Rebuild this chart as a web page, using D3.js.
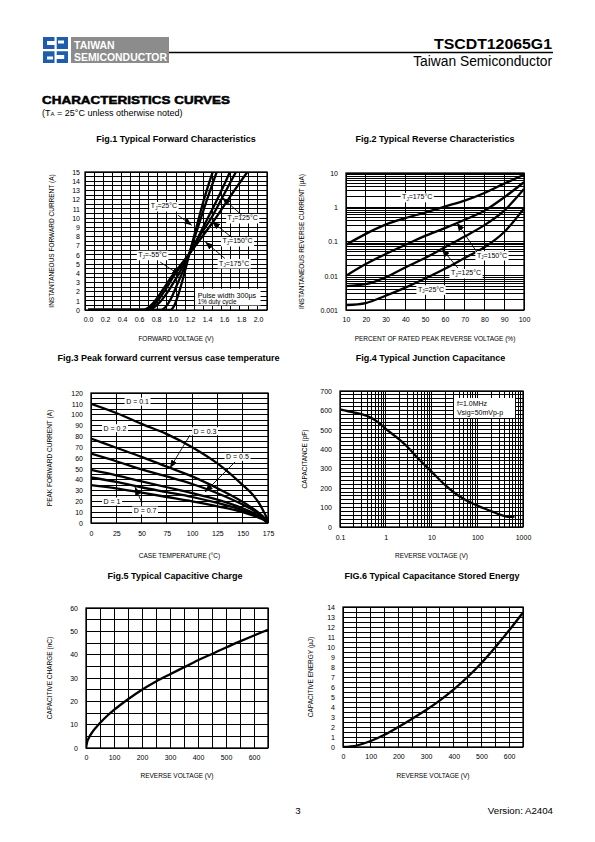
<!DOCTYPE html>
<html><head><meta charset="utf-8">
<script src="https://cdn.jsdelivr.net/npm/d3@7/dist/d3.min.js"></script>
<style>html,body{margin:0;padding:0;background:#fff}svg{display:block}</style>
</head><body>
<script>
// ---------------- DATA ----------------
// Fig.1 Typical Forward Characteristics (V, A)
const fig1XTicks = [0.0,0.2,0.4,0.6,0.8,1.0,1.2,1.4,1.6,1.8,2.0];
const fig1YTicks = [0,1,2,3,4,5,6,7,8,9,10,11,12,13,14,15];
const fig1Tm55 = [[0,0],[0.97,0],[1.01,0.4],[1.06,1.6],[1.12,3.5],[1.19,6.0],[1.27,8.8],[1.37,12.2],[1.467,15]];
const fig1T25  = [[0,0],[0.86,0],[0.91,0.3],[0.98,1.3],[1.05,2.8],[1.12,4.3],[1.19,6.1],[1.29,8.9],[1.40,12],[1.514,15]];
const fig1T125 = [[0,0],[0.71,0],[0.76,0.2],[0.84,0.8],[0.94,2.0],[1.04,3.5],[1.12,4.8],[1.19,6.0],[1.30,8.0],[1.41,10],[1.54,12.4],[1.67,15]];
const fig1T150 = [[0,0],[0.68,0],[0.73,0.2],[0.81,0.9],[0.91,2.2],[1.01,3.7],[1.11,5.0],[1.19,6.1],[1.31,8.0],[1.45,10],[1.59,12.4],[1.74,15]];
const fig1T175 = [[0,0],[0.65,0],[0.70,0.2],[0.78,0.9],[0.88,2.2],[0.98,3.6],[1.09,4.9],[1.19,6.1],[1.33,7.8],[1.48,9.7],[1.67,12.3],[1.874,15]];

// Fig.2 Typical Reverse Characteristics (% of VRRM, uA)
const fig2XTicks = [10,20,30,40,50,60,70,80,90,100];
const fig2YTicks = [0.001,0.01,0.1,1,10];
const fig2YTickLabels = ["0.001","0.01","0.1","1","10"];
const fig2Percent = [10,20,30,40,50,60,70,80,90,100];
const fig2T175 = [0.08,0.167,0.31,0.48,0.7,1.05,1.56,2.6,4.9,8.9];
const fig2T150 = [0.01,0.022,0.043,0.08,0.146,0.245,0.43,0.79,1.95,5.4];
const fig2T125 = [0.005,0.0057,0.009,0.0175,0.033,0.068,0.14,0.3,0.8,3.4];
const fig2T25  = [0.0014,0.0016,0.0026,0.0045,0.0083,0.016,0.033,0.068,0.19,0.93];

// Fig.3 Peak forward current vs case temperature (degC, A)
const fig3XTicks = [0,25,50,75,100,125,150,175];
const fig3YTicks = [0,10,20,30,40,50,60,70,80,90,100,110,120];
const fig3D01 = [[0,110],[25,101.5],[50,91.5],[75,82],[100,70],[125,55],[150,35],[160,26],[167,17],[171,10],[173.5,5],[175,0]];
const fig3D02 = [[0,78],[25,69.5],[50,61],[75,52],[100,43],[125,32],[150,19.5],[160,13.5],[167,8.5],[171,5],[175,0]];
const fig3D03 = [[0,64],[25,57],[50,49.5],[75,43],[100,36],[125,27.5],[150,17],[160,12],[167,7.5],[171,4.5],[175,0]];
const fig3D05 = [[0,49],[25,44],[50,38.5],[75,33],[100,27.5],[125,21.5],[150,13.5],[160,9.5],[167,6],[171,3.5],[175,0]];
const fig3D07 = [[0,42],[25,38],[50,33],[75,28.5],[100,24],[125,18.5],[150,11.7],[160,8.3],[167,5.3],[171,3],[175,0]];
const fig3D1  = [[0,35],[25,32],[50,28],[75,24],[100,20],[125,15.4],[150,10],[160,7],[167,4.5],[171,2.7],[175,0]];

// Fig.4 Typical Junction Capacitance (V, pF)
const fig4XTicks = [0.1,1,10,100,1000];
const fig4XTickLabels = ["0.1","1","10","100","1000"];
const fig4YTicks = [0,100,200,300,400,500,600,700];
const fig4Cap = [[0.1,605],[0.2,590],[0.3,580],[0.5,560],[0.7,537],[1,505],[2,450],[3,412],[5,355],[10,285],[20,215],[30,180],[50,145],[100,110],[200,82],[300,65],[400,56],[500,52],[650,53]];

// Fig.5 Typical Capacitive Charge (V, nC)
const fig5XTicks = [0,100,200,300,400,500,600];
const fig5YTicks = [0,10,20,30,40,50,60];
const fig5Charge = [[0,0],[4,2.6],[10,4.3],[25,7.2],[50,10.7],[75,13.7],[100,16.3],[150,20.9],[200,25],[250,28.5],[300,31.6],[350,34.6],[400,37.6],[450,40.3],[500,43.1],[550,45.7],[600,48.2],[650,50.7]];

// Fig.6 Typical Capacitance Stored Energy (V, uJ)
const fig6XTicks = [0,100,200,300,400,500,600];
const fig6YTicks = [0,1,2,3,4,5,6,7,8,9,10,11,12,13,14];
const fig6Energy = [[0,0],[50,0.15],[100,0.6],[150,1.22],[200,2.0],[250,2.83],[300,3.7],[350,4.67],[400,5.77],[450,7.0],[500,8.4],[550,9.97],[600,11.67],[650,13.45]];

// ---------------- DRAWING ----------------
const FF = '"Liberation Sans", Arial, Helvetica, sans-serif';
const svg = d3.select("body").append("svg").attr("width",595).attr("height",842);
svg.append("rect").attr("width",595).attr("height",842).attr("fill","#fff");
const defs = svg.append("defs");
defs.append("marker").attr("id","ah").attr("viewBox","0 0 10 8").attr("refX",10).attr("refY",4)
  .attr("markerWidth",8).attr("markerHeight",6.4).attr("markerUnits","userSpaceOnUse").attr("orient","auto")
  .append("path").attr("d","M0,0L10,4L0,8z").attr("fill","#000");

function text(g, x, y, s, o={}){
  const t = g.append("text").attr("x",x).attr("y",y).attr("font-family",FF)
    .attr("font-size",o.fs||7).attr("text-anchor",o.anchor||"start").attr("fill",o.fill||"#000");
  if(o.bold) t.attr("font-weight","bold");
  if(o.rotate) t.attr("transform",`rotate(-90,${x},${y})`);
  if(o.len) t.attr("textLength",o.len).attr("lengthAdjust","spacingAndGlyphs");
  t.text(s);
  return t;
}

// ---- header ----
const hdr = svg.append("g");
hdr.append("rect").attr("x",43).attr("y",37).attr("width",25).attr("height",26).attr("fill","#1d5dab");
hdr.append("path").attr("fill","#fff")
  .attr("d","M54.5,37h2.2v26h-2.2z M43,49h25v2.2h-25z M47,41h7.5v4h-7.5z M56.7,55h7.5v4h-7.5z M58,40.5h6v3h-6z M47,56.5h6v3h-6z");
hdr.append("rect").attr("x",71).attr("y",37).attr("width",98).attr("height",26).attr("fill","#8c8c8c");
text(hdr,74,49,"TAIWAN",{fs:10.5,bold:true,fill:"#fff"});
text(hdr,74,61,"SEMICONDUCTOR",{fs:10.5,bold:true,fill:"#fff",len:93});
hdr.append("line").attr("x1",169).attr("x2",553).attr("y1",52.5).attr("y2",52.5).attr("stroke","#000").attr("stroke-width",1.5);
text(hdr,552,49,"TSCDT12065G1",{fs:15,bold:true,anchor:"end",len:118});
text(hdr,552,65.5,"Taiwan Semiconductor",{fs:13.8,anchor:"end"});

const sec = text(svg,42,104,"CHARACTERISTICS CURVES",{fs:11,bold:true,len:188});
sec.attr("stroke","#000").attr("stroke-width",0.5);
const sub = svg.append("text").attr("x",42).attr("y",116).attr("font-family",FF).attr("font-size",9);
sub.append("tspan").text("(T");
sub.append("tspan").attr("font-size",6).text("A");
sub.append("tspan").text(" = 25°C unless otherwise noted)");

// footer
text(svg,298,814,"3",{fs:9.7,anchor:"middle"});
text(svg,553,814,"Version: A2404",{fs:9.7,anchor:"end"});

// ---- panel helper ----
function panel(o){
  const g = svg.append("g");
  const [l,r] = o.x.range(), [b,t] = o.y.range();
  g.append("g").attr("shape-rendering","crispEdges").selectAll("line").data(o.vgrid).join("line")
    .attr("x1",d=>o.x(d)).attr("x2",d=>o.x(d)).attr("y1",t).attr("y2",b)
    .attr("stroke","#000").attr("stroke-width",1);
  g.append("g").attr("shape-rendering","crispEdges").selectAll("line").data(o.hgrid).join("line")
    .attr("y1",d=>o.y(d)).attr("y2",d=>o.y(d)).attr("x1",l).attr("x2",r)
    .attr("stroke","#000").attr("stroke-width",1);
  g.append("rect").attr("x",l).attr("y",t).attr("width",r-l).attr("height",b-t)
    .attr("fill","none").attr("stroke","#000").attr("stroke-width",1.3);
  const ax = g.append("g").attr("transform",`translate(0,${b})`)
    .call(d3.axisBottom(o.x).tickValues(o.xticks).tickFormat(o.xfmt).tickSize(0).tickPadding(o.xpad||7.5));
  ax.select(".domain").remove();
  ax.attr("font-family",FF).attr("font-size",7);
  const ay = g.append("g").attr("transform",`translate(${l},0)`)
    .call(d3.axisLeft(o.y).tickValues(o.yticks).tickFormat(o.yfmt).tickSize(0).tickPadding(o.ypad||5));
  ay.select(".domain").remove();
  ay.attr("font-family",FF).attr("font-size",7);
  defs.append("clipPath").attr("id","clip"+o.id).append("rect")
    .attr("x",l).attr("y",t).attr("width",r-l).attr("height",b-t);
  const cg = g.append("g").attr("clip-path",`url(#clip${o.id})`);
  text(g,(l+r)/2+(o.tdx||0),o.titleY,o.title,{fs:9,bold:true,anchor:"middle"});
  text(g,(l+r)/2+(o.xdx||0),o.xtitleY,o.xtitle,{fs:6.5,anchor:"middle"});
  text(g,o.ytitleX,(t+b)/2+(o.ydy||0),o.ytitle,{fs:6.5,anchor:"middle",rotate:true}).attr("dy","0.35em");
  return {g,cg};
}
function curve(cg,x,y,data,w){
  cg.append("path").datum(data).attr("fill","none").attr("stroke","#000").attr("stroke-width",w||2.3)
    .attr("stroke-linejoin","round")
    .attr("d",d3.line().x(d=>x(d[0])).y(d=>y(d[1])).curve(d3.curveMonotoneX));
}
function tag(g, x, y, build, fs, pad){
  pad = pad==null?1.5:pad;
  const gg = g.append("g");
  const rect = gg.append("rect").attr("fill","#fff");
  const t = gg.append("text").attr("x",x).attr("y",y).attr("text-anchor","middle")
    .attr("font-family",FF).attr("font-size",fs||7).attr("dy","0.35em");
  build(t);
  const bb = t.node().getBBox();
  rect.attr("x",bb.x-pad).attr("y",bb.y-0.5).attr("width",bb.width+2*pad).attr("height",bb.height+1);
}
function tj(temp){ return t=>{ t.append("tspan").text("T"); t.append("tspan").attr("font-size",4.5).attr("dy",1.5).text("J"); t.append("tspan").attr("dy",-1.5).text("="+temp+"°C"); }; }
function plain(s){ return t=>t.text(s); }
function arrow(g,x,y,p0,p1){
  g.append("line").attr("x1",x(p0[0])).attr("y1",y(p0[1])).attr("x2",x(p1[0])).attr("y2",y(p1[1]))
    .attr("stroke","#000").attr("stroke-width",0.9).attr("marker-end","url(#ah)");
}
function even(scale,n){ const [a,b]=scale.domain(); return d3.range(n+1).map(i=>a+(b-a)*i/n); }
function logGrid(lo,hi){ const out=[]; for(let e=lo;e<hi;e++){ for(let k=1;k<10;k++) out.push(k*Math.pow(10,e)); } out.push(Math.pow(10,hi)); return out; }

// ---- Fig.1 ----
{
  const x = d3.scaleLinear().domain([-3/85, 2+9/85]).range([85,267]);
  const y = d3.scaleLinear().domain([0,15]).range([310,172]);
  const p = panel({id:1,x,y,vgrid:even(x,20),hgrid:d3.range(0,15.01,0.5),
    xticks:fig1XTicks,xfmt:d3.format(".1f"),yticks:fig1YTicks,yfmt:d3.format("d"),
    title:"Fig.1 Typical Forward Characteristics",titleY:142,
    xtitle:"FORWARD VOLTAGE (V)",xtitleY:341,ytitle:"INSTANTANEOUS FORWARD CURRENT (A)",ytitleX:52});
  [fig1Tm55,fig1T25,fig1T125,fig1T150,fig1T175].forEach(s=>curve(p.cg,x,y,s,2.3));
  const pg = p.g.append("g");
  pg.append("rect").attr("x",x(1.26)).attr("y",y(2.3)).attr("width",x(2.03)-x(1.26)).attr("height",y(0.5)-y(2.3)).attr("fill","#fff");
  text(pg,x(1.29),y(1.35),"Pulse width 300µs",{fs:7.2});
  text(pg,x(1.29),y(0.65),"1% duty cycle",{fs:6.3});
  tag(p.g,x(0.894),y(11.3),tj("25"));
  tag(p.g,x(1.82),y(10.0),tj("125"));
  tag(p.g,x(1.76),y(7.5),tj("150"));
  tag(p.g,x(1.72),y(5.1),tj("175"));
  tag(p.g,x(0.76),y(6.0),tj("-55"));
  arrow(p.g,x,y,[1.06,10.3],[1.22,9.2]);
  arrow(p.g,x,y,[1.81,10.3],[1.58,12.2]);
  arrow(p.g,x,y,[1.69,7.9],[1.46,9.6]);
  arrow(p.g,x,y,[1.61,5.6],[1.38,7.4]);
  arrow(p.g,x,y,[0.85,5.2],[1.08,3.8]);
}

// ---- Fig.2 ----
{
  const x = d3.scaleLinear().domain([10,100]).range([346,524]);
  const y = d3.scaleLog().domain([0.001,10]).range([310,173]);
  const p = panel({id:2,x,y,vgrid:fig2XTicks,hgrid:logGrid(-3,1),
    xticks:fig2XTicks,xfmt:d3.format("d"),yticks:fig2YTicks,yfmt:(d,i)=>fig2YTickLabels[i],ypad:8,
    title:"Fig.2 Typical Reverse Characteristics",titleY:142,
    xtitle:"PERCENT OF RATED PEAK REVERSE VOLTAGE (%)",xtitleY:341,ytitle:"INSTANTANEOUS REVERSE CURRENT (µA)",ytitleX:302});
  [fig2T175,fig2T150,fig2T125,fig2T25].forEach(s=>curve(p.cg,x,y,fig2Percent.map((v,i)=>[v,s[i]]),2.3));
  tag(p.g,x(46),y(2.0),tj("175"));
  tag(p.g,x(83.8),y(0.040),tj("150"));
  tag(p.g,x(70.7),y(0.012),tj("125"));
  tag(p.g,x(53),y(0.004),tj("25"));
  arrow(p.g,x,y,[76.2,0.049],[66.1,0.35]);
  arrow(p.g,x,y,[66.6,0.0168],[58.5,0.060]);
}

// ---- Fig.3 ----
{
  const x = d3.scaleLinear().domain([0,175]).range([91,268]);
  const y = d3.scaleLinear().domain([0,120]).range([523,393]);
  const p = panel({id:3,x,y,vgrid:fig3XTicks,hgrid:d3.range(0,120.01,5),
    xticks:fig3XTicks,xfmt:d3.format("d"),yticks:fig3YTicks,yfmt:d3.format("d"),ypad:8,xpad:8.5,
    title:"Fig.3 Peak forward current versus case temperature",titleY:361,tdx:-11,
    xtitle:"CASE TEMPERATURE (°C)",xtitleY:558,ytitle:"PEAK FORWARD CURRENT (A)",ytitleX:50});
  [fig3D01,fig3D02,fig3D03,fig3D05,fig3D07,fig3D1].forEach(s=>curve(p.cg,x,y,s,2.3));
  tag(p.g,x(46),y(112),plain("D = 0.1"));
  tag(p.g,x(23.7),y(87.5),plain("D = 0.2"));
  tag(p.g,x(112.7),y(84.7),plain("D = 0.3"));
  tag(p.g,x(144.8),y(61),plain("D = 0.5"));
  tag(p.g,x(20.8),y(19.8),plain("D = 1"));
  tag(p.g,x(53.4),y(11.5),plain("D = 0.7"));
  arrow(p.g,x,y,[97.9,81.2],[78.1,50.8]);
  arrow(p.g,x,y,[142.4,56.3],[112.7,28.6]);
  arrow(p.g,x,y,[50.4,18.5],[43.5,33.2]);
}

// ---- Fig.4 ----
{
  const x = d3.scaleLog().domain([0.1,1000]).range([340,523]);
  const y = d3.scaleLinear().domain([0,700]).range([527,391]);
  const p = panel({id:4,x,y,vgrid:logGrid(-1,3),hgrid:d3.range(0,700.01,20),
    xticks:fig4XTicks,xfmt:(d,i)=>fig4XTickLabels[i],yticks:fig4YTicks,yfmt:d3.format("d"),ypad:8,xpad:8.5,
    title:"Fig.4 Typical Junction Capacitance",titleY:361,tdx:-1,
    xtitle:"REVERSE VOLTAGE (V)",xtitleY:558,ytitle:"CAPACITANCE (pF)",ytitleX:305});
  curve(p.cg,x,y,fig4Cap,2.3);
  const bg = p.g.append("g");
  bg.append("rect").attr("x",x(31)).attr("y",y(664)).attr("width",x(670)-x(31)).attr("height",y(561)-y(664)).attr("fill","#fff");
  text(bg,x(36),y(623),"f=1.0MHz",{fs:7});
  text(bg,x(36),y(576),"Vsig=50mVp-p",{fs:7});
}

// ---- Fig.5 ----
{
  const x = d3.scaleLinear().domain([0,650]).range([86,268]);
  const y = d3.scaleLinear().domain([0,60]).range([748,608]);
  const p = panel({id:5,x,y,vgrid:d3.range(0,650.01,50),hgrid:d3.range(0,60.01,5),
    xticks:fig5XTicks,xfmt:d3.format("d"),yticks:fig5YTicks,yfmt:d3.format("d"),ypad:8,xpad:7,
    title:"Fig.5 Typical Capacitive Charge",titleY:579,tdx:-2,
    xtitle:"REVERSE VOLTAGE (V)",xtitleY:778,ytitle:"CAPACITIVE CHARGE (nC)",ytitleX:50});
  curve(p.cg,x,y,fig5Charge,2.3);
}

// ---- Fig.6 ----
{
  const x = d3.scaleLinear().domain([0,650]).range([343,523]);
  const y = d3.scaleLinear().domain([0,14]).range([747,607]);
  const p = panel({id:6,x,y,vgrid:d3.range(0,650.01,50),hgrid:d3.range(0,14.01,0.5),
    xticks:fig6XTicks,xfmt:d3.format("d"),yticks:fig6YTicks,yfmt:d3.format("d"),ypad:8,xpad:7,
    title:"FIG.6 Typical Capacitance Stored Energy",titleY:579,tdx:-1,
    xtitle:"REVERSE VOLTAGE (V)",xtitleY:778,ytitle:"CAPACITIVE ENERGY (µJ)",ytitleX:311});
  curve(p.cg,x,y,fig6Energy,2.3);
}
</script>
</body></html>
